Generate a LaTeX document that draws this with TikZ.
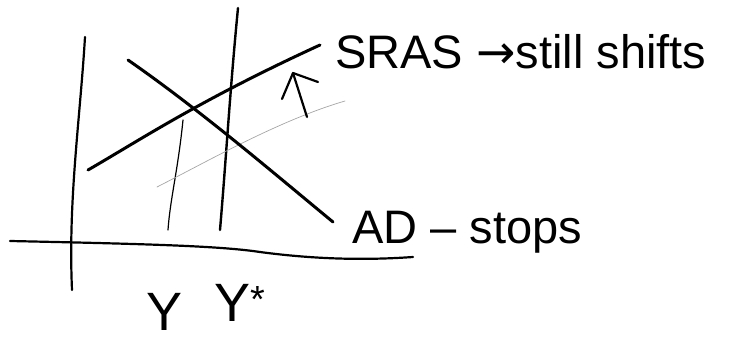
\documentclass[tikz,border=0pt]{standalone}
\usepackage{fontspec}
\setmainfont{Liberation Sans}
\newfontfamily\arrowfont{DejaVu Sans}
\usetikzlibrary{arrows, positioning, calc}

\begin{document}
\begin{tikzpicture}[x=1pt, y=-1pt, line cap=round, line join=round]
    \tikzstyle{axis} = [draw, line width=2.2pt]
    \tikzstyle{curve} = [draw, line width=3pt]
    \tikzstyle{guide} = [draw, line width=1.2pt]
    \tikzstyle{shifted} = [draw, gray!70, line width=0.7pt]
    \tikzstyle{label} = [font=\fontsize{47}{54}\selectfont, inner sep=0pt, anchor=west]
    \tikzstyle{tick} = [font=\fontsize{54}{60}\selectfont, inner sep=0pt]
    \useasboundingbox (0,0) rectangle (742,343);

    % axes
    \coordinate (ytop) at (85,37);
    \coordinate (ybot) at (72,290);
    \coordinate (xleft) at (10,241);
    \coordinate (xright) at (413,257);
    \path [axis] (ytop) .. controls (80,120) and (68,200) .. (ybot);
    \path [axis] (xleft) .. controls (150,244) and (220,246) .. (260,252) .. controls (320,260) and (370,260) .. (xright);

    % output levels
    \coordinate (ystartop) at (238,8);
    \coordinate (ystarbot) at (220,230);
    \coordinate (yoldtop) at (183,120);
    \coordinate (yoldbot) at (168,230);
    \path [draw, line width=2.4pt] (ystartop) .. controls (230,90) and (226,160) .. (ystarbot);
    \path [guide] (yoldtop) .. controls (178,170) and (170,200) .. (yoldbot);

    % curves
    \coordinate (srasL) at (88,170);
    \coordinate (srasR) at (320,45);
    \coordinate (newL) at (157,187);
    \coordinate (newR) at (345,101);
    \coordinate (adL) at (128,60);
    \coordinate (adR) at (333,222);
    \path [curve] (srasL) .. controls (140,140) and (200,100) .. (srasR);
    \path [shifted] (newL) .. controls (210,160) and (280,120) .. (newR);
    \path [curve] (adL) .. controls (200,110) and (270,170) .. (adR);

    % shift arrow
    \coordinate (arrfoot) at (307,117);
    \coordinate (arrtip) at (293,73);
    \path [draw, line width=2.2pt] (arrfoot) -- (arrtip);
    \path [draw, line width=2.2pt] (282,99) -- (arrtip) -- (318,82);

    % labels
    \node [label] (sraslabel) at (335,52) {SRAS {\arrowfont →}still shifts};
    \node [label] (adlabel) at (352,232) {AD -- stops};
    \node [tick] (ylabel) at (165,312) {Y};
    \node [tick] (ystarlabel) at (240,303) {Y\textsuperscript{*}};
\end{tikzpicture}
\end{document}
